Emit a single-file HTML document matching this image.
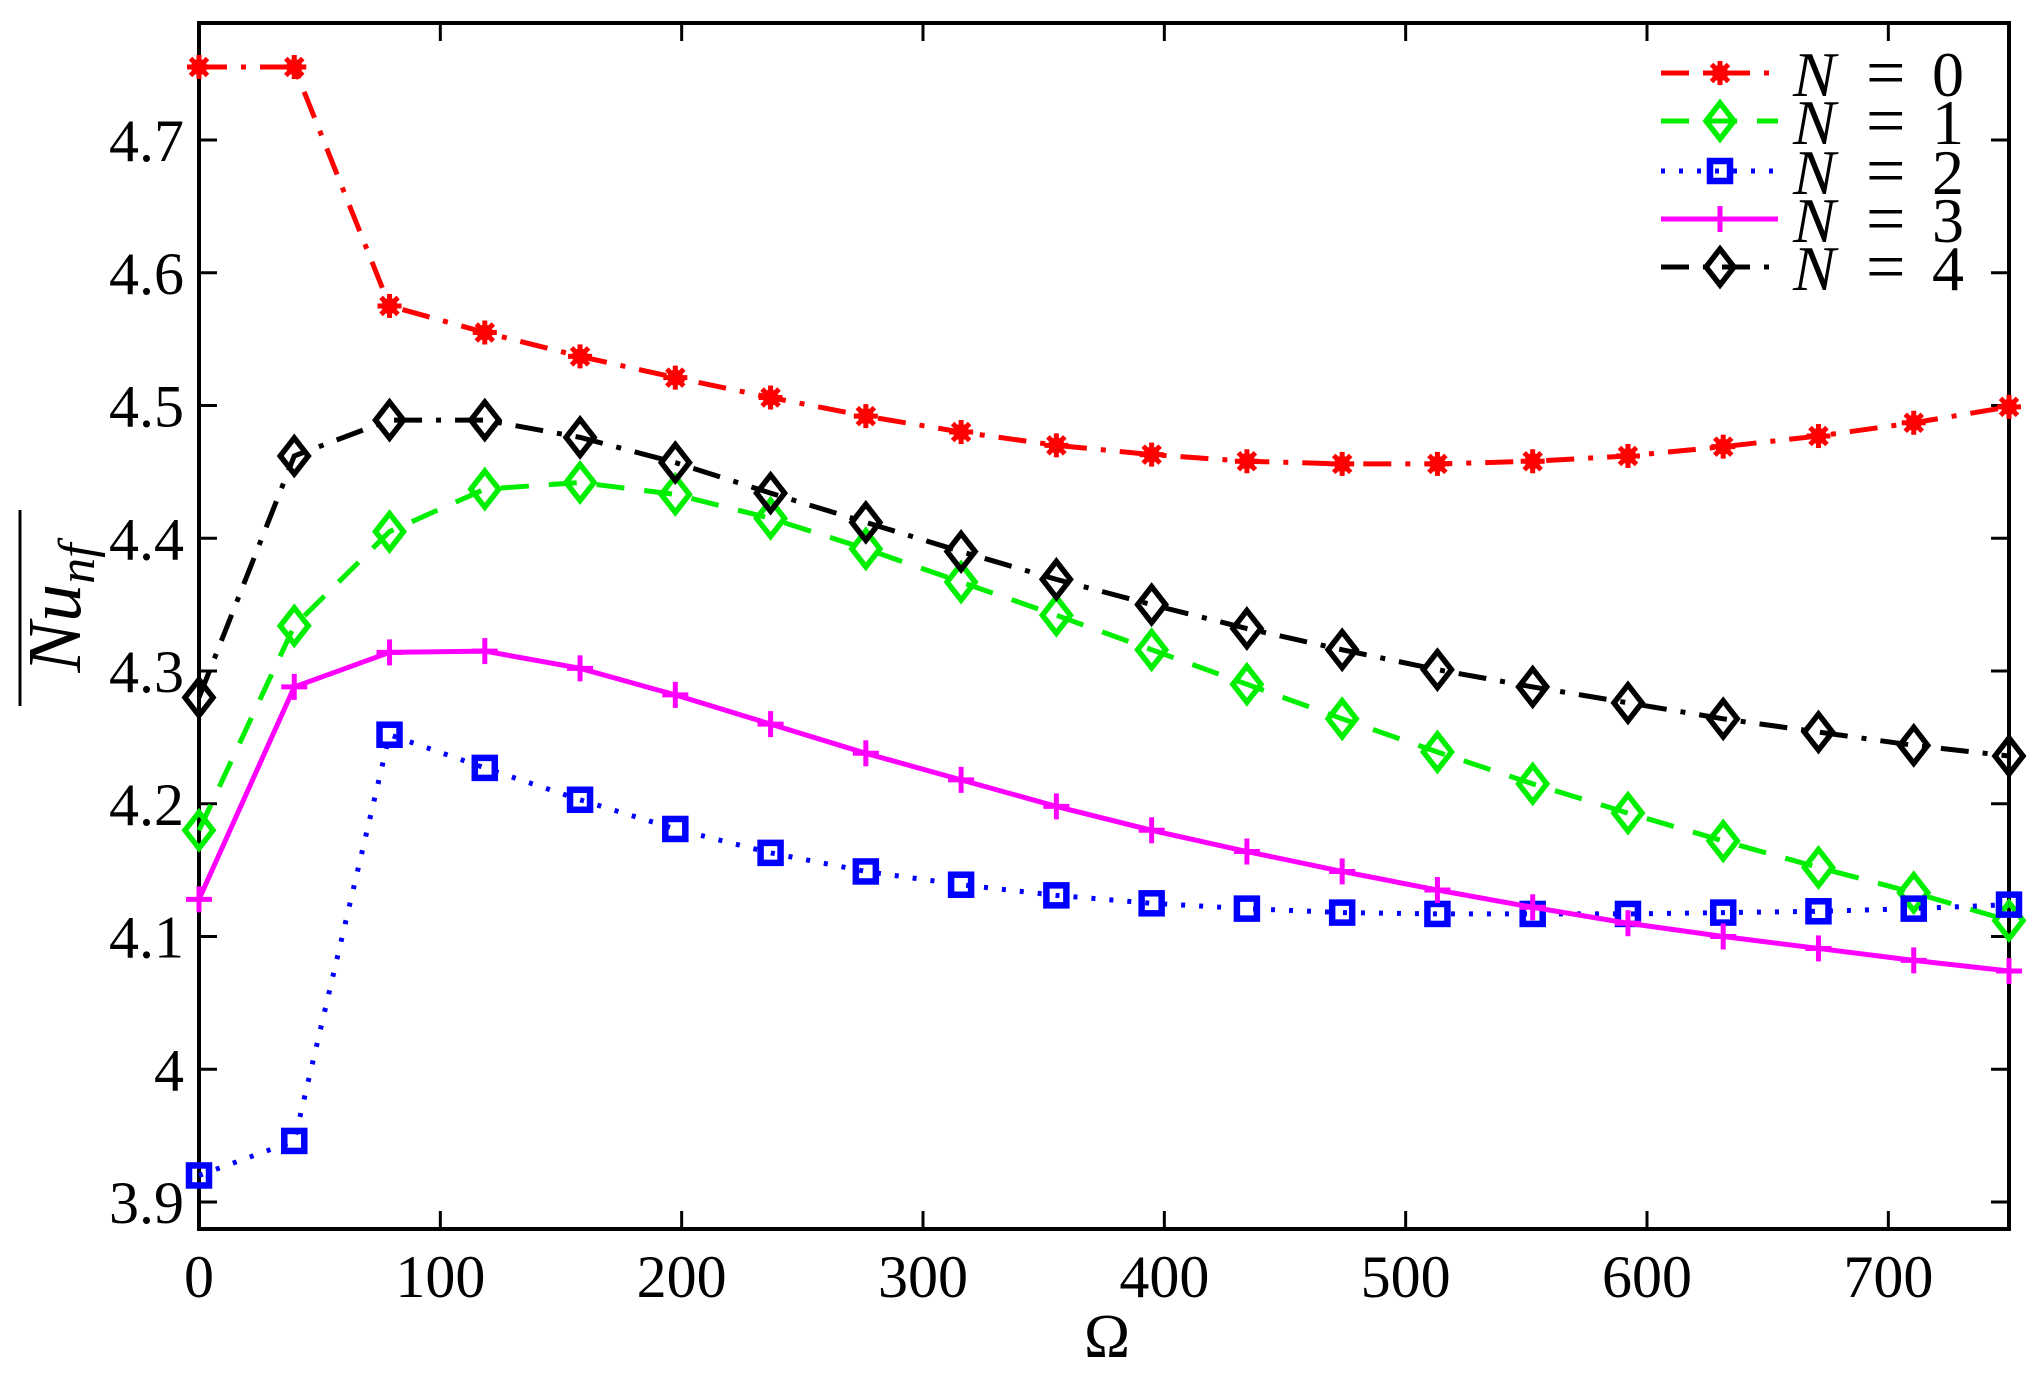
<!DOCTYPE html>
<html><head><meta charset="utf-8"><style>
html,body{margin:0;padding:0;background:#fff;}
svg{display:block;}
text{font-family:"Liberation Serif",serif;fill:#000;}
</style></head><body>
<svg id="s" width="2043" height="1375" viewBox="0 0 2043 1375" xmlns="http://www.w3.org/2000/svg"></svg>
<script>
var s=document.getElementById('s');
var L=199,R=2009,T=23,B=1229;
function X(o){return L+o*(R-L)/750;}
function Y(v){return 140+(4.7-v)*1327.5;}
var h='';
h+='<rect x="'+L+'" y="'+T+'" width="'+(R-L)+'" height="'+(B-T)+'" fill="none" stroke="#000" stroke-width="4"/>';
for(var i=0;i<=7;i++){var x=X(i*100);
h+='<line x1="'+x+'" y1="'+B+'" x2="'+x+'" y2="'+(B-18)+'" stroke="#000" stroke-width="3"/>';
h+='<line x1="'+x+'" y1="'+T+'" x2="'+x+'" y2="'+(T+18)+'" stroke="#000" stroke-width="3"/>';
h+='<text x="'+x+'" y="1297" font-size="60" text-anchor="middle">'+(i*100)+'</text>';}
var yl=['3.9','4','4.1','4.2','4.3','4.4','4.5','4.6','4.7'];
for(var j=0;j<9;j++){var v=3.9+j*0.1,y=Y(v);
h+='<line x1="'+L+'" y1="'+y+'" x2="'+(L+18)+'" y2="'+y+'" stroke="#000" stroke-width="3"/>';
h+='<line x1="'+R+'" y1="'+y+'" x2="'+(R-18)+'" y2="'+y+'" stroke="#000" stroke-width="3"/>';
h+='<text x="184" y="'+(y+21)+'" font-size="60" text-anchor="end">'+yl[j]+'</text>';}
h+='<text x="1107" y="1357" font-size="62" text-anchor="middle">Ω</text>';
h+='<g transform="translate(80,608) rotate(-90)"><text x="0" y="0" font-size="76" text-anchor="middle" font-style="italic">Nu<tspan font-size="52" dy="14">nf</tspan></text><line x1="-98" y1="-60" x2="98" y2="-60" stroke="#000" stroke-width="3"/></g>';
var D=[
{c:'#ff0000',d:'28,14,5,14',m:'star',v:[4.755,4.755,4.575,4.555,4.537,4.521,4.506,4.492,4.480,4.470,4.463,4.458,4.456,4.456,4.458,4.462,4.469,4.477,4.487,4.499]},
{c:'#00ee00',d:'28,20',m:'dia',v:[4.18,4.334,4.405,4.437,4.442,4.433,4.415,4.392,4.367,4.342,4.316,4.290,4.264,4.239,4.215,4.193,4.172,4.152,4.133,4.112]},
{c:'#0000ff',d:'4,14',m:'sq',v:[3.92,3.946,4.252,4.227,4.203,4.181,4.163,4.149,4.139,4.131,4.125,4.121,4.118,4.117,4.117,4.117,4.118,4.119,4.121,4.124]},
{c:'#ff00ff',d:'',m:'plus',v:[4.128,4.288,4.314,4.315,4.302,4.282,4.260,4.238,4.218,4.198,4.180,4.164,4.149,4.135,4.122,4.110,4.100,4.091,4.082,4.074]},
{c:'#000000',d:'28,14,5,14',m:'dia',v:[4.28,4.462,4.489,4.489,4.476,4.457,4.434,4.412,4.390,4.369,4.350,4.332,4.316,4.301,4.288,4.276,4.264,4.254,4.244,4.236]}];
function mk(t,x,y,c){
 if(t=='star'){var r='';for(var a=0;a<4;a++){var an=a*Math.PI/4;r+='<line x1="'+(x-12*Math.cos(an))+'" y1="'+(y-12*Math.sin(an))+'" x2="'+(x+12*Math.cos(an))+'" y2="'+(y+12*Math.sin(an))+'" stroke="'+c+'" stroke-width="5"/>';}return r+'<circle cx="'+x+'" cy="'+y+'" r="8" fill="'+c+'"/>';}
 if(t=='dia')return '<polygon points="'+x+','+(y-18)+' '+(x+14)+','+y+' '+x+','+(y+18)+' '+(x-14)+','+y+'" fill="none" stroke="'+c+'" stroke-width="5.5"/>';
 if(t=='sq')return '<rect x="'+(x-10)+'" y="'+(y-10)+'" width="20" height="20" fill="none" stroke="'+c+'" stroke-width="6.5"/>';
 if(t=='plus')return '<line x1="'+(x-13)+'" y1="'+y+'" x2="'+(x+13)+'" y2="'+y+'" stroke="'+c+'" stroke-width="5"/><line x1="'+x+'" y1="'+(y-13)+'" x2="'+x+'" y2="'+(y+13)+'" stroke="'+c+'" stroke-width="5"/>';
}
D.forEach(function(s){var p=[];s.v.forEach(function(v,i){p.push(X(i*750/19)+','+Y(v));});
 h+='<polyline points="'+p.join(' ')+'" fill="none" stroke="'+s.c+'" stroke-width="5"'+(s.d?' stroke-dasharray="'+s.d+'"':'')+'/>';
 s.v.forEach(function(v,i){h+=mk(s.m,X(i*750/19),Y(v),s.c);});});
var ly=[73,121,171,219,267];
D.forEach(function(s,k){var y=ly[k];
 h+='<line x1="1661" y1="'+y+'" x2="1778" y2="'+y+'" stroke="'+s.c+'" stroke-width="5"'+(s.d?' stroke-dasharray="'+s.d+'"':'')+'/>';
 h+=mk(s.m,1720,y,s.c);
 h+='<text x="1793" y="'+(y+23)+'" font-size="64"><tspan font-style="italic">N</tspan><tspan x="1866" font-size="70">=</tspan><tspan x="1932">'+k+'</tspan></text>';});
s.innerHTML=h;
</script>
</body></html>
